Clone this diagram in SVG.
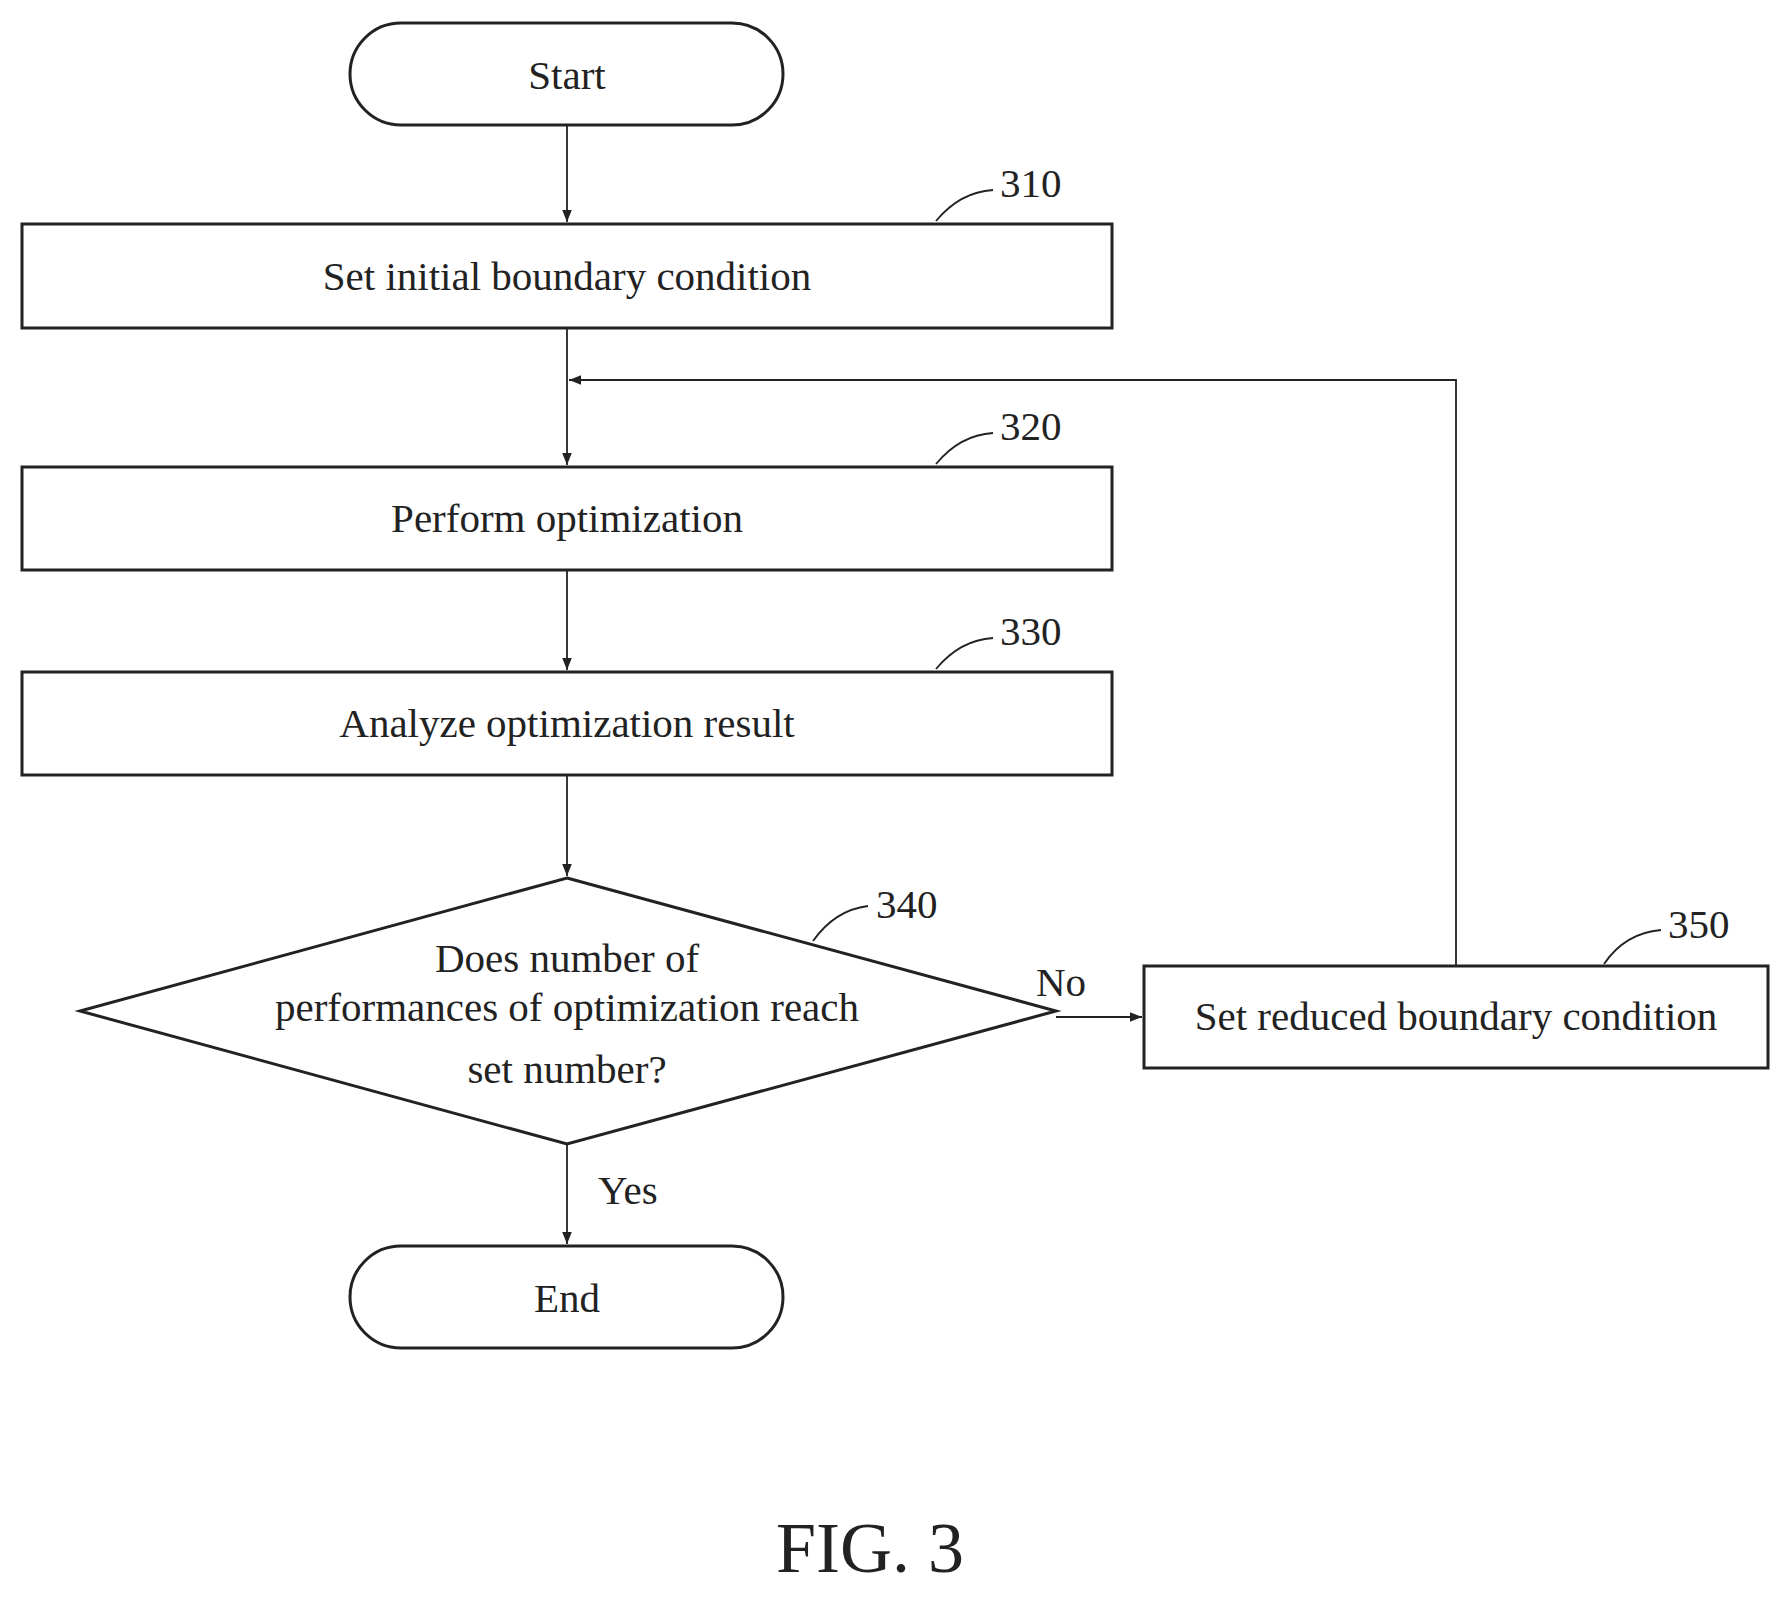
<svg xmlns="http://www.w3.org/2000/svg" width="1781" height="1597" viewBox="0 0 1781 1597">
<defs>
<marker id="ah" viewBox="0 0 10 10" refX="10" refY="5" markerWidth="12" markerHeight="12" markerUnits="userSpaceOnUse" orient="auto"><path d="M0,1 L10,5 L0,9 Z" fill="#222"/></marker>
</defs>
<style>
.b{fill:#fff;stroke:#222;stroke-width:3}
.t{font-family:"Liberation Serif",serif;font-size:41px;fill:#222;text-anchor:middle}
.n{font-family:"Liberation Serif",serif;font-size:41px;fill:#222}
.c{fill:none;stroke:#222;stroke-width:1.8}
</style>
<rect width="1781" height="1597" fill="#fff"/>
<g id="start"><rect class="b" x="350" y="23" width="433" height="102" rx="51"/><text class="t" x="567" y="89">Start</text></g>
<g id="n310"><rect class="b" x="22" y="224" width="1090" height="104"/><text class="t" x="567" y="290">Set initial boundary condition</text><path class="c" d="M936,221 Q960,192 993,190"/><text class="n" x="1000" y="197">310</text></g>
<g id="n320"><rect class="b" x="22" y="467" width="1090" height="103"/><text class="t" x="567" y="532">Perform optimization</text><path class="c" d="M936,464 Q960,435 993,433"/><text class="n" x="1000" y="440">320</text></g>
<g id="n330"><rect class="b" x="22" y="672" width="1090" height="103"/><text class="t" x="567" y="737">Analyze optimization result</text><path class="c" d="M936,669 Q960,640 993,638"/><text class="n" x="1000" y="645">330</text></g>
<g id="n340"><polygon class="b" points="567,878 1056,1011 567,1144 80,1011"/><text class="t" x="567" y="972">Does number of</text><text class="t" x="567" y="1021">performances of optimization reach</text><text class="t" x="567" y="1083">set number?</text><path class="c" d="M813,941 Q835,910 868,906"/><text class="n" x="876" y="918">340</text></g>
<g id="n350"><rect class="b" x="1144" y="966" width="624" height="102"/><text class="t" x="1456" y="1030">Set reduced boundary condition</text><path class="c" d="M1604,964 Q1625,933 1661,930"/><text class="n" x="1668" y="938">350</text></g>
<g id="end"><rect class="b" x="350" y="1246" width="433" height="102" rx="51"/><text class="t" x="567" y="1312">End</text></g>
<g id="connectors">
<line class="c" x1="567" y1="125" x2="567" y2="222" marker-end="url(#ah)"/>
<line class="c" x1="567" y1="328" x2="567" y2="465" marker-end="url(#ah)"/>
<line class="c" x1="567" y1="570" x2="567" y2="670" marker-end="url(#ah)"/>
<line class="c" x1="567" y1="775" x2="567" y2="876" marker-end="url(#ah)"/>
<line class="c" x1="567" y1="1144" x2="567" y2="1244" marker-end="url(#ah)"/>
<line class="c" x1="1056" y1="1017" x2="1142" y2="1017" marker-end="url(#ah)"/>
<polyline class="c" points="1456,966 1456,380 569,380" marker-end="url(#ah)"/>
<text class="n" x="1036" y="996">No</text>
<text class="n" x="598" y="1204">Yes</text>
</g>
<text x="870" y="1572" style="font-family:'Liberation Serif',serif;font-size:72px;fill:#222;text-anchor:middle">FIG. 3</text>
</svg>
